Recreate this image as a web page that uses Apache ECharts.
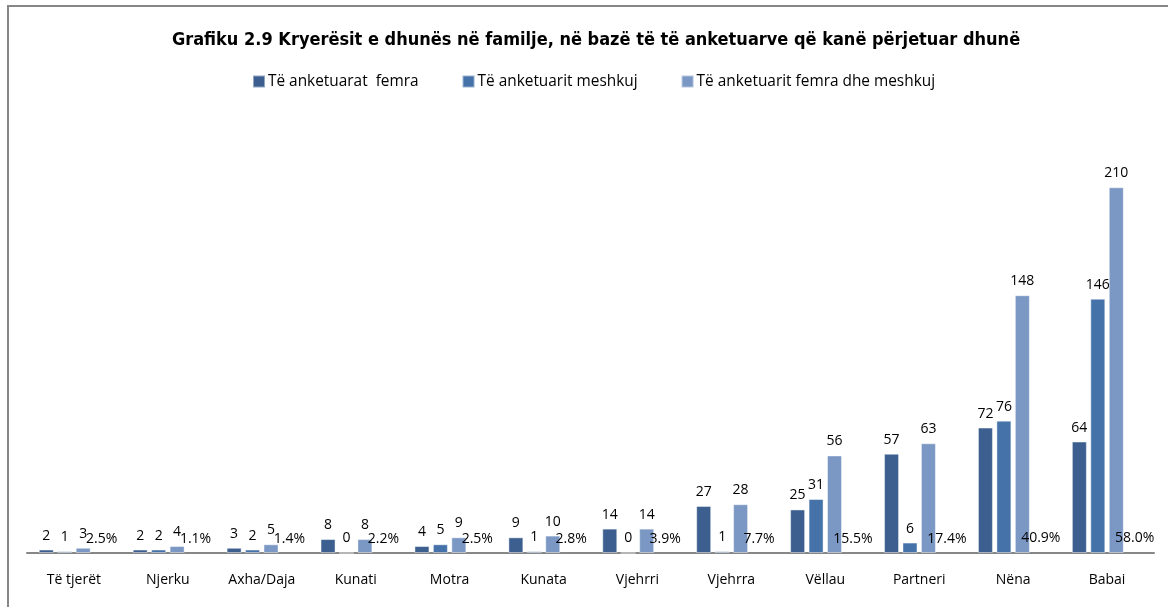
<!DOCTYPE html>
<html><head><meta charset="utf-8">
<script src="https://cdn.jsdelivr.net/npm/echarts@6/dist/echarts.min.js"></script>
<style>html,body{margin:0;padding:0;background:#fff}#c{width:1168px;height:607px}</style>
</head><body><div id="c"></div>
<script>
const titleText = 'Grafiku 2.9 Kryerësit e dhunës në familje, në bazë të të anketuarve që kanë përjetuar dhunë';
const categories = ['Të tjerët','Njerku','Axha/Daja','Kunati','Motra','Kunata','Vjehrri','Vjehrra','Vëllau','Partneri','Nëna','Babai'];
const seriesNames = ['Të anketuarat  femra','Të anketuarit meshkuj','Të anketuarit femra dhe meshkuj'];
const femra = [2,2,3,8,4,9,14,27,25,57,72,64];
const meshkuj = [1,2,2,0,5,1,0,1,31,6,76,146];
const totali = [3,4,5,8,9,10,14,28,56,63,148,210];
const perqindja = [2.5,1.1,1.4,2.2,2.5,2.8,3.9,7.7,15.5,17.4,40.9,58.0];
const colors = ['#3c5f8f','#4472a9','#7b97c3'];

const labelFont = {fontFamily:'Open Sans', fontSize:14, color:'#000'};
function barSeries(name, data, color){
  return {
    name, type:'bar', data, barWidth:15, barGap:'23%',
    itemStyle:{color, borderColor:'rgba(255,255,255,0.45)', borderWidth:1},
    label:{show:true, position:'top', distance:7, ...labelFont},
    emphasis:{disabled:true}
  };
}
const chart = echarts.init(document.getElementById('c'));
chart.setOption({
  animation:false,
  title:{text:titleText, left:591, textAlign:'center', top:26,
    textStyle:{fontFamily:'DejaVu Sans Condensed, DejaVu Sans, sans-serif', fontWeight:'bold', fontSize:18, color:'#000'}},
  legend:{top:69, left:247, itemWidth:12, itemHeight:12, itemGap:43, icon:'rect',
    data:seriesNames,
    textStyle:{fontFamily:'Open Sans', fontSize:15.4, color:'#000', padding:[0,0,0,-2]}},
  grid:{left:27, right:14, top:135, bottom:54},
  xAxis:{type:'category', data:categories,
    axisLine:{lineStyle:{color:'#878787', width:2}},
    axisTick:{show:false},
    axisLabel:{margin:20, ...labelFont}},
  yAxis:{type:'value', min:0, max:240, show:false, splitLine:{show:false}},
  series:[
    barSeries(seriesNames[0], femra, colors[0]),
    barSeries(seriesNames[1], meshkuj, colors[1]),
    barSeries(seriesNames[2], totali, colors[2]),
    {name:'Përqindja', type:'bar', data:perqindja.map(v=>v/100), barWidth:15, barGap:'23%',
      itemStyle:{color:'rgba(0,0,0,0)'},
      label:{show:true, position:'top', distance:7, ...labelFont,
        formatter:p=>perqindja[p.dataIndex].toFixed(1)+'%'},
      emphasis:{disabled:true}}
  ],
  graphic:[{type:'rect', shape:{x:8, y:6, width:1200, height:700},
    style:{fill:'none', stroke:'#878787', lineWidth:2}, silent:true}]
});
</script></body></html>
